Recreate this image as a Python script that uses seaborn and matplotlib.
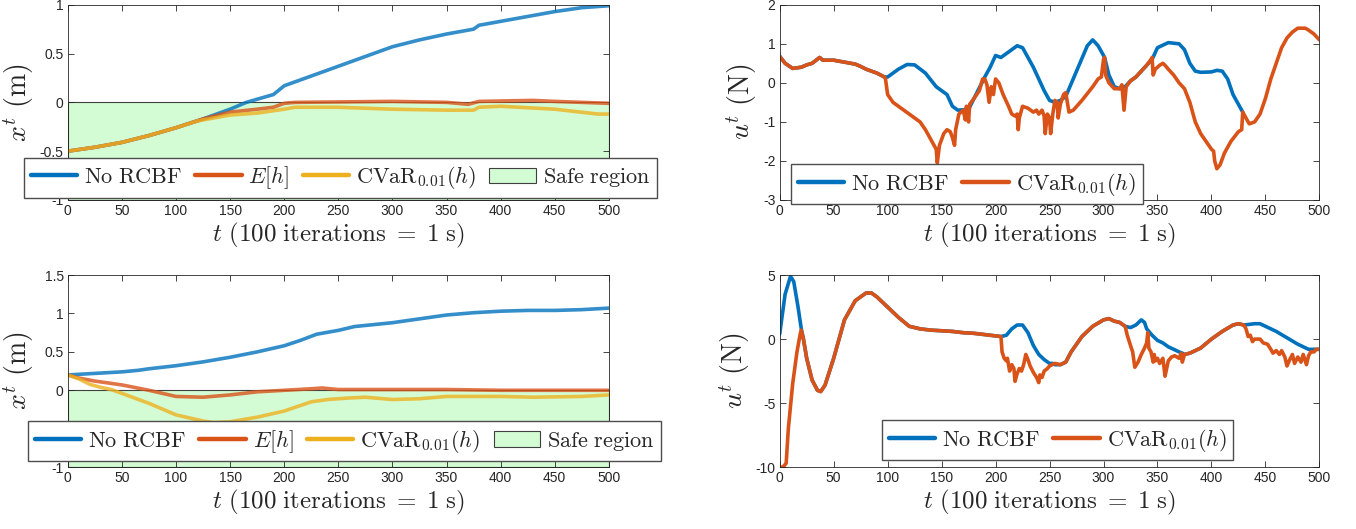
""" Position and control input of the cart under RCBF variants (two runs) """

import numpy as np
import pandas as pd
import matplotlib
matplotlib.use('Agg')
import matplotlib.pyplot as plt
import seaborn as sns

# DATA --------------------------------------------------------------------
# top row: run 1, position x^t (m)
pos1_none_t = [0, 25, 50, 75, 100, 125, 150, 165, 190, 200, 250, 300, 325, 350, 375, 380, 400, 450, 475, 500]
pos1_none_x = [-0.5, -0.46, -0.41, -0.34, -0.26, -0.17, -0.07, 0.0, 0.08, 0.17, 0.37, 0.57, 0.64, 0.70, 0.75, 0.79, 0.83, 0.93, 0.97, 0.99]
pos1_mean_t = [0, 25, 50, 75, 100, 125, 150, 175, 190, 200, 210, 300, 350, 370, 380, 430, 450, 500]
pos1_mean_x = [-0.5, -0.46, -0.41, -0.34, -0.26, -0.17, -0.10, -0.07, -0.05, -0.01, 0.0, 0.01, 0.0, -0.02, 0.01, 0.02, 0.01, -0.01]
pos1_cvar_t = [0, 25, 50, 75, 100, 120, 150, 175, 200, 210, 250, 300, 350, 375, 380, 400, 450, 490, 500]
pos1_cvar_x = [-0.5, -0.46, -0.41, -0.34, -0.26, -0.19, -0.13, -0.11, -0.07, -0.05, -0.05, -0.07, -0.08, -0.08, -0.05, -0.04, -0.07, -0.12, -0.12]

# top row: run 1, control u^t (N)
ctl1_none_t = [0, 5, 12, 20, 25, 30, 37, 40, 50, 60, 70, 75, 80, 90, 97, 100, 110, 118, 125, 135,
               145, 150, 155, 160, 165, 175, 180, 190, 195, 200, 205, 215, 220, 225, 235, 245, 250,
               255, 260, 265, 275, 285, 290, 295, 300, 301, 305, 310, 315, 318, 320, 325, 330, 340,
               345, 350, 360, 370, 375, 380, 385, 390, 400, 405, 410, 415, 420, 429]
ctl1_none_u = [0.68, 0.5, 0.37, 0.40, 0.46, 0.5, 0.65, 0.58, 0.58, 0.53, 0.48, 0.42, 0.35, 0.25, 0.15, 0.15, 0.35, 0.47, 0.46, 0.25,
               -0.1, -0.2, -0.3, -0.6, -0.7, -0.68, -0.4, 0.15, 0.4, 0.7, 0.65, 0.85, 0.95, 0.9, 0.4, -0.2, -0.45,
               -0.5, -0.45, -0.35, 0.3, 0.95, 1.1, 0.95, 0.7, 0.65, 0.2, -0.1, -0.15, -0.1, -0.1, 0.05, 0.15, 0.45,
               0.6, 0.9, 1.03, 1.0, 0.85, 0.5, 0.3, 0.27, 0.28, 0.32, 0.3, 0.1, -0.3, -0.75]
ctl1_cvar_t = [0, 5, 12, 20, 25, 30, 37, 40, 50, 60, 70, 75, 80, 90, 97, 98, 100, 105, 110, 120, 130, 135,
               140, 143, 145, 146, 148, 152, 155, 158, 160, 162, 163, 166, 170, 172, 173, 175, 176, 180,
               185, 188, 190, 192, 194, 196, 198, 200, 203, 207, 212, 215, 218, 220, 221, 222, 225, 230,
               235, 238, 240, 243, 245, 246, 248, 250, 251, 253, 255, 257, 258, 260, 263, 265, 268, 272,
               280, 290, 295, 298, 300, 301, 302, 305, 310, 315, 317, 319, 321, 325, 330, 340, 344, 345,
               346, 348, 352, 355, 357, 360, 365, 370, 375, 380, 385, 390, 395, 400, 402, 403, 405, 408,
               412, 418, 425, 428, 429, 432, 435, 440, 445, 450, 455, 460, 465, 470, 475, 480, 487, 490,
               495, 500]
ctl1_cvar_u = [0.68, 0.5, 0.37, 0.40, 0.46, 0.5, 0.65, 0.58, 0.58, 0.53, 0.48, 0.42, 0.35, 0.25, 0.15, 0.1, -0.3, -0.5, -0.6, -0.8, -1.0, -1.2,
               -1.45, -1.6, -1.7, -2.05, -1.6, -1.3, -1.2, -1.25, -1.4, -1.6, -1.2, -0.8, -0.7, -0.95, -0.6, -1.0, -0.55, -0.4,
               -0.2, 0.1, 0.1, -0.05, -0.5, -0.1, -0.3, 0.1, 0.0, -0.3, -0.6, -0.8, -0.85, -0.8, -1.2, -0.9, -0.6, -0.65,
               -0.75, -0.7, -0.8, -0.7, -0.85, -1.3, -0.8, -0.9, -1.3, -0.8, -0.45, -0.5, -0.9, -0.55, -0.3, -0.25, -0.75, -0.7,
               -0.45, -0.1, 0.1, 0.15, 0.6, 0.65, 0.2, 0.0, -0.15, -0.15, -0.05, -0.7, -0.1, 0.05, 0.15, 0.45, 0.6, 0.65,
               0.2, 0.35, 0.45, 0.5, 0.45, 0.35, 0.2, 0.0, -0.15, -0.5, -1.0, -1.3, -1.5, -1.7, -1.75, -2.0, -2.2, -2.1,
               -1.8, -1.5, -1.25, -1.2, -0.75, -0.9, -1.05, -1.0, -0.8, -0.4, 0.1, 0.5, 0.9, 1.15, 1.3, 1.4, 1.4, 1.35,
               1.25, 1.1]

# bottom row: run 2, position x^t (m)
pos2_none_t = [0, 25, 50, 65, 75, 100, 125, 150, 175, 200, 215, 230, 250, 265, 300, 330, 350, 375, 400, 425, 450, 475, 500]
pos2_none_x = [0.2, 0.22, 0.24, 0.26, 0.28, 0.32, 0.37, 0.43, 0.5, 0.58, 0.65, 0.73, 0.78, 0.83, 0.88, 0.94, 0.98, 1.01, 1.03, 1.04, 1.04, 1.05, 1.07]
pos2_mean_t = [0, 10, 25, 50, 75, 100, 125, 150, 175, 200, 225, 235, 250, 300, 350, 400, 450, 500]
pos2_mean_x = [0.2, 0.16, 0.12, 0.07, 0.0, -0.08, -0.09, -0.06, -0.02, 0.0, 0.02, 0.03, 0.01, 0.01, 0.01, 0.0, 0.0, 0.0]
pos2_cvar_t = [0, 10, 20, 30, 40, 50, 75, 100, 125, 135, 150, 175, 200, 225, 240, 260, 275, 300, 325, 350, 400, 430, 475, 500]
pos2_cvar_x = [0.2, 0.15, 0.08, 0.04, 0.01, -0.04, -0.17, -0.32, -0.40, -0.42, -0.41, -0.35, -0.27, -0.15, -0.12, -0.10, -0.09, -0.12, -0.11, -0.08, -0.08, -0.09, -0.08, -0.06]

# bottom row: run 2, control u^t (N)
ctl2_none_t = [0, 5, 10, 13, 17, 20, 22, 25, 30, 35, 38, 42, 50, 60, 70, 80, 85, 90, 100, 110, 120, 130,
               140, 150, 160, 170, 180, 190, 200, 205, 210, 215, 220, 225, 230, 235, 240, 245, 250, 253,
               255, 260, 265, 270, 280, 290, 300, 305, 310, 315, 320, 325, 330, 335, 338, 340, 345, 350,
               355, 360, 365, 370, 373, 375, 380, 390, 400, 410, 420, 425, 430, 435, 440, 445, 450, 460,
               470, 480, 490, 495, 500]
ctl2_none_u = [0.4, 3.5, 4.9, 4.5, 2.5, 0.8, 0.0, -1.5, -3.2, -4.0, -4.1, -3.6, -1.5, 1.5, 3.0, 3.6, 3.6, 3.3, 2.5, 1.7, 1.0, 0.8,
               0.7, 0.65, 0.6, 0.5, 0.45, 0.35, 0.25, 0.2, 0.3, 0.8, 1.1, 1.1, 0.5, -0.5, -1.2, -1.6, -1.9, -1.9,
               -2.0, -2.0, -1.8, -1.0, 0.2, 1.0, 1.5, 1.6, 1.4, 1.3, 1.0, 0.9, 1.1, 1.5, 1.3, 0.8, 0.3, -0.1,
               -0.3, -0.6, -0.8, -1.0, -1.1, -1.2, -1.1, -0.7, 0.0, 0.6, 1.1, 1.2, 1.1, 1.15, 1.2, 1.2, 1.0, 0.6,
               0.1, -0.4, -0.8, -0.8, -0.8]
ctl2_cvar_t = [0, 3, 6, 8, 12, 16, 19, 20, 22, 25, 30, 35, 38, 42, 50, 60, 70, 80, 85, 90, 100, 110, 120, 130,
               140, 150, 160, 170, 180, 190, 200, 205, 206, 208, 210, 211, 213, 215, 217, 218, 220, 222,
               224, 226, 228, 230, 232, 235, 238, 240, 241, 243, 245, 248, 250, 255, 260, 265, 270, 280,
               290, 300, 305, 310, 315, 320, 322, 325, 327, 329, 332, 335, 338, 340, 341, 342, 344, 346,
               347, 348, 350, 352, 355, 357, 358, 360, 363, 366, 370, 372, 373, 375, 380, 390, 400, 410,
               420, 425, 430, 432, 434, 436, 438, 440, 445, 448, 452, 455, 457, 460, 463, 465, 468, 470,
               472, 475, 477, 480, 483, 485, 488, 490, 492, 495, 497, 500]
ctl2_cvar_u = [-10.0, -10.0, -9.7, -7.0, -3.5, -1.0, 0.4, 0.7, 0.0, -1.5, -3.2, -4.0, -4.1, -3.6, -1.5, 1.5, 3.0, 3.6, 3.6, 3.3, 2.5, 1.7, 1.0, 0.8,
               0.7, 0.65, 0.6, 0.5, 0.45, 0.35, 0.25, 0.2, -1.0, -1.5, -1.7, -1.5, -2.5, -2.0, -2.3, -3.3, -2.7, -2.3,
               -2.5, -2.0, -1.2, -1.6, -2.1, -2.6, -3.0, -3.4, -2.8, -3.0, -2.5, -2.3, -2.1, -1.9, -2.0, -1.8, -1.0, 0.2,
               1.0, 1.5, 1.6, 1.4, 1.3, 1.0, 0.3, -0.5, -1.0, -2.2, -1.8, -1.2, -0.7, -0.3, 0.5, -0.7, -1.0, -1.8,
               -1.2, -1.7, -1.5, -1.9, -1.5, -2.9, -2.5, -1.7, -1.4, -1.3, -1.5, -1.1, -1.8, -1.2, -1.1, -0.7, 0.0, 0.6,
               1.1, 1.2, 1.1, 0.8, 0.2, 0.3, -0.2, 0.0, 0.0, -0.3, -0.4, -0.8, -1.1, -0.9, -1.2, -0.9, -1.4, -2.1,
               -1.7, -1.2, -1.9, -1.4, -1.8, -1.2, -2.0, -1.3, -1.0, -1.0, -0.8, -0.8]

safe_bounds = [0, 500]  # safe region: x <= 0

# STYLE -------------------------------------------------------------------
c_blue = '#0072BD'
c_orange = '#D95319'
c_yellow = '#EDB120'
c_safe = '#d4fcd4'
lw = 2.6

sns.set_theme(style='ticks')
plt.rcParams['font.family'] = ['Liberation Sans', 'DejaVu Sans']
plt.rcParams['mathtext.fontset'] = 'cm'
plt.rcParams['axes.edgecolor'] = '0.15'
plt.rcParams['axes.linewidth'] = 0.6
plt.rcParams['xtick.direction'] = 'in'
plt.rcParams['ytick.direction'] = 'in'
plt.rcParams['xtick.color'] = '0.15'
plt.rcParams['ytick.color'] = '0.15'
plt.rcParams['xtick.labelsize'] = 10
plt.rcParams['ytick.labelsize'] = 10

xlab = r'$t\ (100\ \mathrm{iterations}\;=\;1\ \mathrm{s})$'
lab_fs = 18
leg_fs = 16


def line(ax, t, y, color, label, alpha=0.8):
    df = pd.DataFrame({'t': t, 'y': y})
    sns.lineplot(data=df, x='t', y='y', color=color, lw=lw, alpha=alpha,
                 label=label, ax=ax, legend=False, sort=False)


def matlab_axes(ax, ylim, yticks, ylabel):
    ax.set_xlim(0, 500)
    ax.set_ylim(*ylim)
    ax.set_xticks(np.arange(0, 501, 50))
    ax.set_yticks(yticks)
    ax.set_yticklabels(['{:g}'.format(v) for v in yticks])
    ax.tick_params(top=True, right=True, length=4, width=0.6, pad=3)
    ax.set_xlabel(xlab, fontsize=lab_fs, labelpad=2)
    ax.set_ylabel(ylabel, fontsize=lab_fs + 2, labelpad=2)
    for s in ax.spines.values():
        s.set_visible(True)


def leg(ax, handles, labels, center, fig):
    ax.legend(handles, labels, loc='center', bbox_to_anchor=center,
              bbox_transform=fig.transFigure, ncol=len(labels),
              fontsize=leg_fs, frameon=True, fancybox=False, framealpha=1,
              edgecolor='0.3', handlelength=2.1, handletextpad=0.3,
              columnspacing=0.6, borderpad=0.3, borderaxespad=0)


fig = plt.figure(figsize=(13.56, 5.29), dpi=100)
ax_p1 = fig.add_axes([0.050, 0.622, 0.399, 0.369])
ax_u1 = fig.add_axes([0.575, 0.622, 0.398, 0.369])
ax_p2 = fig.add_axes([0.050, 0.117, 0.399, 0.363])
ax_u2 = fig.add_axes([0.575, 0.117, 0.398, 0.363])

# position panels
for ax, (nt, nx, mt, mx, ct, cx), lim, ticks in [
        (ax_p1, (pos1_none_t, pos1_none_x, pos1_mean_t, pos1_mean_x, pos1_cvar_t, pos1_cvar_x),
         (-1, 1), [-1, -0.5, 0, 0.5, 1]),
        (ax_p2, (pos2_none_t, pos2_none_x, pos2_mean_t, pos2_mean_x, pos2_cvar_t, pos2_cvar_x),
         (-1, 1.5), [-1, -0.5, 0, 0.5, 1, 1.5])]:
    safe = ax.fill_between(safe_bounds, -1, 0, facecolor=c_safe, edgecolor='0.25',
                           linewidth=0.8, zorder=0)
    line(ax, nt, nx, c_blue, 'No RCBF')
    line(ax, mt, mx, c_orange, r'$E[h]$')
    line(ax, ct, cx, c_yellow, r'$\mathrm{CVaR}_{0.01}(h)$')
    matlab_axes(ax, lim, ticks, r'$x^t\ (\mathrm{m})$')
    hl = [plt.Line2D([], [], color=c, lw=lw + 0.6) for c in (c_blue, c_orange, c_yellow)] + [safe]
    labels = [r'$\mathrm{No\ RCBF}$', r'$E[h]$', r'$\mathrm{CVaR}_{0.01}(h)$', r'$\mathrm{Safe\ region}$']
    center = (0.251, 0.664) if ax is ax_p1 else (0.254, 0.166)
    leg(ax, hl, labels, center, fig)

# control panels
for ax, (nt, nu, ct, cu), lim, ticks, center in [
        (ax_u1, (ctl1_none_t, ctl1_none_u, ctl1_cvar_t, ctl1_cvar_u), (-3, 2),
         [-3, -2, -1, 0, 1, 2], (0.713, 0.652)),
        (ax_u2, (ctl2_none_t, ctl2_none_u, ctl2_cvar_t, ctl2_cvar_u), (-10, 5),
         [-10, -5, 0, 5], (0.780, 0.168))]:
    line(ax, nt, nu, c_blue, 'No RCBF', alpha=1)
    line(ax, ct, cu, c_orange, 'CVaR', alpha=1)
    matlab_axes(ax, lim, ticks, r'$u^t\ (\mathrm{N})$')
    hl = [plt.Line2D([], [], color=c, lw=lw + 0.6) for c in (c_blue, c_orange)]
    labels = [r'$\mathrm{No\ RCBF}$', r'$\mathrm{CVaR}_{0.01}(h)$']
    leg(ax, hl, labels, center, fig)

fig.savefig('out.png', dpi=100)
